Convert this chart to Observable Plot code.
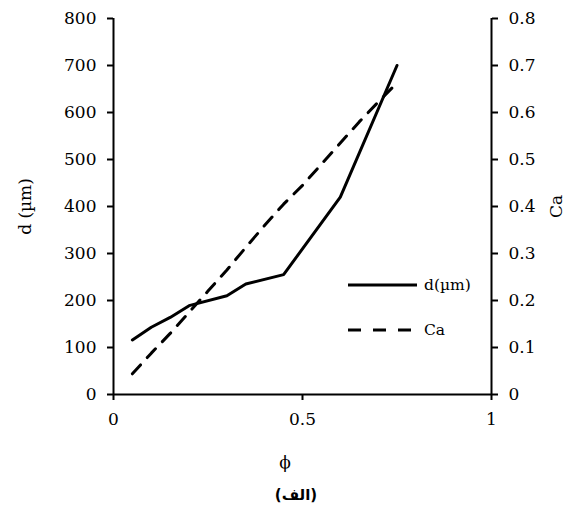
<!DOCTYPE html>
<html>
<head>
<meta charset="utf-8">
<script src="https://cdn.jsdelivr.net/npm/d3@7"></script>
<script src="https://cdn.jsdelivr.net/npm/@observablehq/plot@0.6"></script>
<style>
  html, body { margin: 0; padding: 0; background: #fff; }
  #wrap { position: relative; width: 570px; height: 509px; }
  #legend { position: absolute; left: 340px; top: 270px; }
  #xlabel { position: absolute; top: 451px; left: 235px; width: 100px; text-align: center;
            font-family: "DejaVu Serif", serif; font-size: 17px; line-height: 22px; }
  #caption { position: absolute; top: 485px; left: 22px; width: 548px; text-align: center;
             font-family: "DejaVu Sans", sans-serif; font-weight: bold; font-size: 15px; line-height: 20px; direction: rtl; }
</style>
</head>
<body>
<div id="wrap"></div>
<script>
// ---- data ----
const phiD = [0.05, 0.1, 0.15, 0.2, 0.3, 0.35, 0.45, 0.6, 0.75];
const dUm  = [116, 143, 164, 189, 210, 235, 255, 420, 700];

const phiCa = [0.05, 0.1, 0.15, 0.2, 0.25, 0.3, 0.35, 0.4, 0.45, 0.5, 0.55, 0.6, 0.65, 0.7, 0.75];
const caVals = [0.044, 0.088, 0.13, 0.175, 0.22, 0.265, 0.313, 0.36, 0.405, 0.445, 0.49, 0.535, 0.58, 0.622, 0.663];

const xTicks = [0, 0.5, 1];
const dTicks = [0, 100, 200, 300, 400, 500, 600, 700, 800];
const caTicks = [0, 0.1, 0.2, 0.3, 0.4, 0.5, 0.6, 0.7, 0.8];
const caTickLabels = ["0", "0.1", "0.2", "0.3", "0.4", "0.5", "0.6", "0.7", "0.8"];

const seriesNames = ["d(\u00b5m)", "Ca"];
const xTitle = "\u03d5";
const caption = "(الف)";

// ---- build tables ----
const CA_SCALE = 1000; // Ca mapped onto d axis (0.8 -> 800)
const dData = phiD.map((p, i) => ({phi: p, d: dUm[i]}));
const caData = phiCa.map((p, i) => ({phi: p, ca: caVals[i]}));

const chart = Plot.plot({
  width: 570,
  height: 475,
  marginTop: 18,
  marginLeft: 113,
  marginRight: 79,
  marginBottom: 81,
  style: {fontFamily: "DejaVu Serif, serif", fontSize: "17px", color: "#000", background: "#fff"},
  x: {domain: [0, 1]},
  y: {domain: [0, 800]},
  marks: [
    Plot.axisY({anchor: "left", ticks: dTicks, tickSize: 6, tickPadding: 11, strokeWidth: 2,
      label: "d (\u00b5m)", labelAnchor: "center", labelArrow: "none", labelOffset: 95}),
    Plot.axisY({anchor: "right", ticks: caTicks.map(v => v * CA_SCALE), tickSize: 6, tickPadding: 11, strokeWidth: 2,
      tickFormat: (v) => caTickLabels[caTicks.findIndex(t => Math.abs(t * CA_SCALE - v) < 1e-6)],
      label: "Ca", labelAnchor: "center", labelArrow: "none", labelOffset: 70}),
    Plot.axisX({ticks: xTicks, tickSize: 6, tickPadding: 12, strokeWidth: 2, tickFormat: d => String(d), label: null}),
    Plot.ruleX([0, 1], {strokeWidth: 2}),
    Plot.ruleY([0], {strokeWidth: 2}),
    Plot.line(dData, {x: "phi", y: "d", stroke: "#000", strokeWidth: 3}),
    Plot.line(caData, {x: "phi", y: d => d.ca * CA_SCALE, stroke: "#000", strokeWidth: 3, strokeDasharray: "12,10"})
  ]
});

const wrap = document.getElementById("wrap");
wrap.appendChild(chart);

// legend
const legend = document.createElement("div");
legend.id = "legend";
legend.innerHTML = `
<svg width="150" height="80" xmlns="http://www.w3.org/2000/svg" style="font-family: DejaVu Serif, serif; font-size: 15.5px;">
  <line x1="8" y1="15" x2="77" y2="15" stroke="#000" stroke-width="3"/>
  <text x="84" y="15" dy="0.35em">${seriesNames[0]}</text>
  <line x1="8" y1="60" x2="77" y2="60" stroke="#000" stroke-width="3" stroke-dasharray="13,12"/>
  <text x="84" y="60" dy="0.35em">${seriesNames[1]}</text>
</svg>`;
wrap.appendChild(legend);

const xl = document.createElement("div");
xl.id = "xlabel";
xl.textContent = xTitle;
wrap.appendChild(xl);

const cap = document.createElement("div");
cap.id = "caption";
cap.textContent = caption;
wrap.appendChild(cap);
</script>
</body>
</html>
